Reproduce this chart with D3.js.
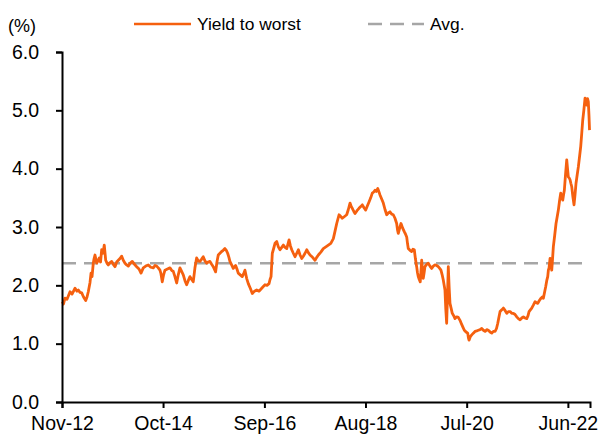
<!DOCTYPE html>
<html>
<head>
<meta charset="utf-8">
<script src="https://cdn.jsdelivr.net/npm/d3@7"></script>
<style>
  html, body { margin: 0; padding: 0; background: #fff; }
  svg { display: block; font-family: Arial, "Liberation Sans", sans-serif; }
</style>
</head>
<body>
<svg id="chart" width="600" height="434"></svg>
<script>
// ---- data (decimal year, yield %) ----
const dates = [
 2012.839,2012.862,2012.890,2012.928,2012.985,
 2013.023,2013.080,2013.117,2013.142,2013.174,2013.206,2013.241,2013.282,2013.307,2013.331,2013.364,2013.383,2013.402,2013.426,2013.439,2013.458,2013.491,2013.515,2013.540,2013.563,2013.585,2013.610,2013.634,2013.661,2013.686,2013.710,2013.742,2013.775,2013.805,2013.837,2013.869,2013.900,2013.932,2013.964,2013.994,
 2014.027,2014.059,2014.089,2014.127,2014.165,2014.206,2014.248,2014.292,2014.330,2014.373,2014.420,2014.468,2014.515,2014.563,2014.595,2014.627,2014.657,2014.689,2014.708,2014.733,2014.758,2014.784,2014.831,2014.879,2014.917,2014.941,2014.973,
 2015.006,2015.036,2015.068,2015.100,2015.131,2015.163,2015.195,2015.225,2015.258,2015.290,2015.320,2015.352,2015.384,2015.415,2015.447,2015.479,2015.509,2015.542,2015.574,2015.604,2015.636,2015.669,2015.699,2015.744,2015.769,2015.794,2015.826,2015.858,2015.888,2015.920,2015.947,2015.972,2015.996,
 2016.015,2016.047,2016.078,2016.123,2016.148,2016.172,2016.210,2016.248,2016.275,2016.299,2016.331,2016.362,2016.400,2016.438,2016.479,2016.521,2016.564,2016.616,2016.646,2016.678,2016.716,2016.754,2016.773,2016.792,2016.816,2016.835,2016.867,2016.900,2016.930,2016.962,2016.994,
 2017.025,2017.057,2017.089,2017.133,2017.157,2017.184,2017.214,2017.246,2017.278,2017.309,2017.341,2017.373,2017.403,2017.436,2017.468,2017.498,2017.530,2017.578,2017.625,2017.657,2017.688,2017.735,2017.782,2017.830,2017.877,2017.924,2017.972,
 2018.004,2018.036,2018.080,2018.112,2018.142,2018.184,2018.225,2018.256,2018.288,2018.311,2018.331,2018.358,2018.383,2018.420,2018.458,2018.491,2018.521,2018.553,2018.585,2018.616,2018.648,2018.680,2018.710,2018.737,2018.761,2018.786,2018.813,2018.837,2018.856,2018.888,2018.919,2018.951,2018.983,
 2019.013,2019.045,2019.078,2019.108,2019.140,2019.172,2019.188,2019.203,2019.229,2019.254,2019.286,2019.316,2019.339,2019.362,2019.377,2019.392,2019.424,2019.456,2019.481,2019.506,2019.528,2019.551,2019.566,2019.581,2019.600,2019.619,2019.633,2019.646,2019.661,2019.676,2019.693,2019.708,2019.741,2019.771,2019.803,2019.835,2019.866,2019.898,2019.930,2019.960,2019.987,
 2020.011,2020.034,2020.055,2020.072,2020.087,2020.102,2020.119,2020.134,2020.150,2020.167,2020.182,2020.205,2020.225,2020.252,2020.277,2020.309,2020.339,2020.371,2020.403,2020.428,2020.453,2020.485,2020.517,2020.530,2020.542,2020.566,2020.593,2020.623,2020.655,2020.688,2020.718,2020.750,2020.782,2020.813,2020.845,2020.877,2020.907,2020.939,2020.972,
 2021.002,2021.034,2021.061,2021.085,2021.106,2021.129,2021.161,2021.191,2021.223,2021.256,2021.286,2021.318,2021.350,2021.381,2021.413,2021.445,2021.475,2021.508,2021.540,2021.570,2021.602,2021.634,2021.659,2021.678,2021.703,2021.729,2021.759,2021.792,2021.818,2021.843,2021.873,2021.905,2021.928,2021.949,2021.972,2021.994,
 2022.013,2022.032,2022.044,2022.057,2022.076,2022.091,2022.108,2022.123,2022.138,2022.163,2022.189,2022.212,2022.233,2022.256,2022.278,2022.297,2022.316,2022.331,2022.347,2022.369,2022.392,2022.407,2022.422,2022.439,2022.455,2022.470,2022.487,2022.508,2022.530,2022.549,2022.568,2022.591,2022.612,2022.634,2022.657,2022.676,2022.695,2022.716,2022.739,2022.754,2022.771,2022.786,2022.801,2022.814,2022.824
];
const yieldToWorst = [
 1.72,1.68,1.78,1.76,1.89,
 1.85,1.95,1.90,1.92,1.88,1.87,1.80,1.74,1.80,1.89,2.05,2.21,2.15,2.38,2.45,2.52,2.38,2.42,2.47,2.40,2.61,2.55,2.69,2.43,2.38,2.35,2.39,2.41,2.36,2.32,2.40,2.43,2.46,2.50,2.43,
 2.38,2.35,2.33,2.38,2.41,2.36,2.32,2.28,2.21,2.30,2.33,2.35,2.31,2.30,2.34,2.33,2.30,2.26,2.20,2.06,2.18,2.26,2.28,2.30,2.25,2.24,2.15,
 2.04,2.18,2.30,2.24,2.18,2.08,2.01,2.08,2.15,2.10,2.06,2.30,2.47,2.42,2.41,2.45,2.49,2.42,2.38,2.40,2.41,2.36,2.32,2.23,2.40,2.52,2.55,2.58,2.60,2.63,2.60,2.55,2.48,
 2.41,2.35,2.29,2.34,2.28,2.21,2.18,2.15,2.20,2.26,2.12,2.03,1.95,1.86,1.90,1.92,1.90,1.95,1.98,2.01,2.00,2.03,2.10,2.15,2.55,2.61,2.72,2.75,2.66,2.61,2.65,
 2.69,2.65,2.63,2.78,2.68,2.61,2.55,2.49,2.55,2.61,2.52,2.46,2.50,2.55,2.61,2.56,2.52,2.48,2.43,2.48,2.52,2.57,2.63,2.66,2.69,2.72,2.80,
 2.93,3.06,3.21,3.18,3.15,3.18,3.21,3.30,3.41,3.35,3.32,3.27,3.23,3.28,3.32,3.35,3.38,3.33,3.29,3.36,3.43,3.50,3.58,3.60,3.63,3.61,3.66,3.60,3.55,3.48,3.41,3.30,3.21,
 3.24,3.26,3.22,3.21,3.15,3.06,2.95,2.89,2.98,3.06,2.98,2.92,2.88,2.83,2.72,2.63,2.60,2.58,2.62,2.61,2.45,2.32,2.22,2.15,2.10,2.06,2.25,2.43,2.25,2.12,2.22,2.32,2.36,2.38,2.33,2.29,2.33,2.35,2.34,2.32,2.29,
 2.26,2.18,2.09,2.00,1.92,1.60,1.35,1.80,2.32,1.95,1.69,1.60,1.52,1.48,1.43,1.46,1.45,1.40,1.33,1.28,1.23,1.20,1.18,1.10,1.06,1.12,1.15,1.18,1.21,1.22,1.23,1.24,1.26,1.23,1.21,1.24,1.23,1.20,1.18,
 1.21,1.21,1.26,1.35,1.45,1.55,1.58,1.61,1.57,1.52,1.55,1.55,1.52,1.52,1.50,1.46,1.43,1.41,1.44,1.46,1.44,1.43,1.48,1.55,1.58,1.61,1.66,1.72,1.70,1.69,1.74,1.78,1.80,1.78,1.88,1.98,
 2.08,2.15,2.26,2.30,2.46,2.35,2.26,2.45,2.66,2.85,3.06,3.18,3.29,3.45,3.58,3.52,3.46,3.55,3.63,3.90,4.15,4.00,3.86,3.84,3.81,3.75,3.69,3.52,3.38,3.55,3.75,3.90,4.03,4.20,4.38,4.60,4.83,5.00,5.21,5.15,5.09,5.20,5.15,4.90,4.66
];
const average = 2.38;
const tickDates = ["2012-11","2014-10","2016-09","2018-08","2020-07","2022-06"];
const yTicks = [0, 1, 2, 3, 4, 5, 6];
const seriesNames = ["Yield to worst", "Avg."];

// ---- helpers ----
function decToDate(t) {
  const yr = Math.floor(t);
  const start = new Date(yr, 0, 1), end = new Date(yr + 1, 0, 1);
  return new Date(start.getTime() + (t - yr) * (end - start));
}
const parseMonth = d3.timeParse("%Y-%m");
const n = Math.min(dates.length, yieldToWorst.length);
const data = d3.range(n).map(i => ({ date: decToDate(dates[i]), value: yieldToWorst[i] }));

const svg = d3.select("#chart");
const mLeft = 62, mRight = 590, mTop = 52, mBottom = 402;

const x = d3.scaleTime()
  .domain([parseMonth("2012-11"), parseMonth("2022-11")])
  .range([mLeft, mRight]);
const y = d3.scaleLinear().domain([0, 6]).range([mBottom, mTop]);

const orange = "#F5600F";
const grey = "#A6A6A6";

// average line
svg.append("line")
  .attr("x1", mLeft).attr("x2", mRight)
  .attr("y1", y(average)).attr("y2", y(average))
  .attr("stroke", grey).attr("stroke-width", 2.5)
  .attr("stroke-dasharray", "14,8");

// series line
svg.append("path")
  .datum(data)
  .attr("fill", "none")
  .attr("stroke", orange)
  .attr("stroke-width", 2.8)
  .attr("stroke-linejoin", "round")
  .attr("d", d3.line().x(d => x(d.date)).y(d => y(d.value)));

// axes
const yAxis = svg.append("g")
  .attr("transform", `translate(${mLeft},0)`)
  .call(d3.axisLeft(y).tickValues(yTicks).tickFormat(d3.format(".1f")).tickSize(6).tickPadding(17));
const xAxis = svg.append("g")
  .attr("transform", `translate(0,${mBottom})`)
  .call(d3.axisBottom(x).tickValues(tickDates.map(parseMonth)).tickFormat(d3.timeFormat("%b-%y")).tickSize(6).tickPadding(6));

[yAxis, xAxis].forEach(g => {
  g.select(".domain").attr("stroke", "#000").attr("stroke-width", 2);
  g.selectAll(".tick line").attr("stroke", "#000").attr("stroke-width", 2);
  g.selectAll("text").attr("fill", "#000").style("font-size", "19.5px")
    .style("font-family", "Arial, 'Liberation Sans', sans-serif");
});
xAxis.selectAll("text").attr("dy", "0.82em");

// unit label
svg.append("text").attr("x", 8).attr("y", 32)
  .style("font-size", "18px").attr("fill", "#000").text("(%)");

// legend
const lg = svg.append("g");
lg.append("line").attr("x1", 134).attr("x2", 191).attr("y1", 24).attr("y2", 24)
  .attr("stroke", orange).attr("stroke-width", 2.5);
lg.append("text").attr("x", 197).attr("y", 30).style("font-size", "17.4px")
  .attr("fill", "#000").text(seriesNames[0]);
lg.append("line").attr("x1", 368).attr("x2", 424).attr("y1", 24).attr("y2", 24)
  .attr("stroke", grey).attr("stroke-width", 2.5).attr("stroke-dasharray", "14,8");
lg.append("text").attr("x", 430).attr("y", 30).style("font-size", "17.4px")
  .attr("fill", "#000").text(seriesNames[1]);
</script>
</body>
</html>
